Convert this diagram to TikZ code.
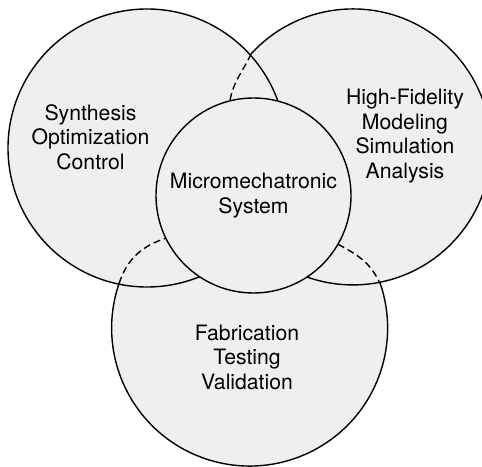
\documentclass[tikz,border=0pt]{standalone}
\usepackage{fontspec}
\setmainfont{TeX Gyre Heros}
\usepackage{tikz}
\definecolor{venn}{HTML}{EFEFEF}

\begin{document}
\begin{tikzpicture}[x=0.5pt,y=0.5pt,
  disc/.style={circle,fill=venn,inner sep=0pt,outer sep=0pt},
  rim/.style={line width=0.7pt},
  hidden/.style={line width=0.7pt,dash pattern=on 3.5pt off 2pt},
  txt/.style={font=\fontsize{10.6}{12.25}\selectfont,align=center}]
\useasboundingbox (0,0) rectangle (482,466);
\clip (0,0) rectangle (482,466);
% the three fields, fill first
\node[disc,minimum size=139pt] (lft) at (147,318) {};
\node[disc,minimum size=138pt] (rgt) at (352,318) {};
\node[disc,minimum size=138pt] (bot) at (249.5,137.5) {};
% outlines
\draw[rim] (lft.0) arc[start angle=0,end angle=360,radius=139];
\draw[rim] (rgt.137.6) arc[start angle=137.6,end angle=-137.6,radius=138];
\draw[rim] (bot.161.2) arc[start angle=161.2,end angle=379.2,radius=138];
% centre
\node[disc,draw,rim,minimum size=97.5pt,txt] (mid) at (253.5,270.5) {Micromechatronic\\System};
% hidden edges
\draw[hidden] (rgt.137.6) to[out=245,in=80] (mid.104.2);
\draw[hidden] (bot.161.2) to[out=72,in=198] (mid.206.8);
\draw[hidden] (mid.330.7) to[out=-28,in=114] (bot.19.2);
% labels
\node[txt] (synth) at (90.5,329) {Synthesis\\Optimization\\Control};
\node[txt] (model) at (405,330) {High-Fidelity\\Modeling\\Simulation\\Analysis};
\node[txt] (fab) at (247,109) {Fabrication\\Testing\\Validation};
\end{tikzpicture}
\end{document}
